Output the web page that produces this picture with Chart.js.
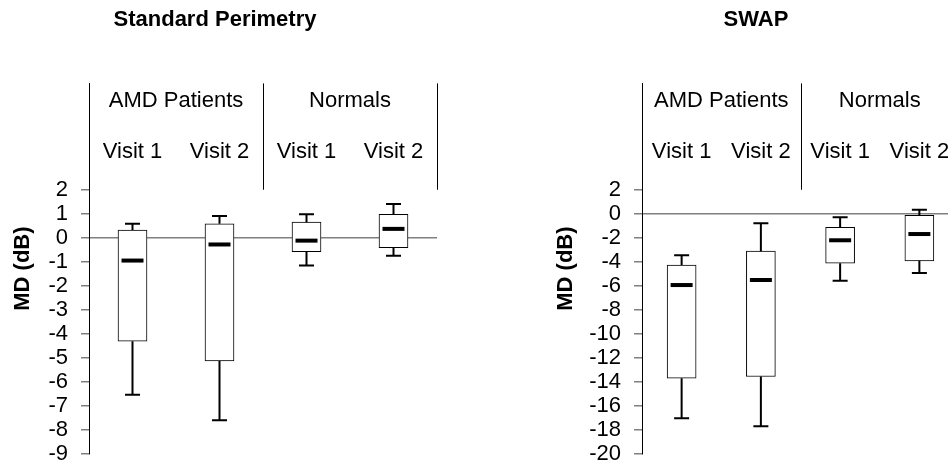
<!DOCTYPE html>
<html>
<head>
<meta charset="utf-8">
<script src="https://cdn.jsdelivr.net/npm/chart.js@4.4.1/dist/chart.umd.min.js"></script>
<style>
  html, body { margin: 0; padding: 0; background: #fff; }
  body { width: 948px; height: 464px; overflow: hidden; position: relative; }
  canvas { position: absolute; top: 0; }
  #stdChart { left: -7px; }
  #swapChart { left: 553px; }
</style>
</head>
<body>
<canvas id="stdChart" width="474" height="480"></canvas>
<canvas id="swapChart" width="406" height="480"></canvas>
<script>
const categories = ['Visit 1', 'Visit 2', 'Visit 1', 'Visit 2'];
const groups = ['AMD Patients', 'Normals'];

// Standard perimetry, MD (dB)
const stdMin = [-6.54, -7.6, -1.16, -0.75];
const stdQ1 = [-4.31, -5.13, -0.58, -0.41];
const stdMedian = [-0.95, -0.28, -0.12, 0.37];
const stdQ3 = [0.32, 0.58, 0.65, 0.98];
const stdMax = [0.58, 0.91, 0.98, 1.41];

// SWAP, MD (dB)
const swapMin = [-17.04, -17.7, -5.58, -4.94];
const swapQ1 = [-13.7, -13.56, -4.12, -3.92];
const swapMedian = [-5.94, -5.52, -2.21, -1.69];
const swapQ3 = [-4.28, -3.12, -1.13, -0.14];
const swapMax = [-3.45, -0.8, -0.3, 0.33];

Chart.defaults.font.family = "'Liberation Sans', Arial, sans-serif";
Chart.defaults.color = '#000';

const FONT = "22px 'Liberation Sans', Arial, sans-serif";

// whiskers, medians and the group header above the plot
const boxExtras = {
    id: 'boxExtras',
    afterDatasetsDraw(chart, args, opts) {
        const { ctx, chartArea, scales: { x, y } } = chart;
        ctx.save();
        ctx.strokeStyle = '#000';

        ctx.lineWidth = 2;
        opts.min.forEach((lo, i) => {
            const cx = x.getPixelForValue(i);
            const ends = [[opts.q1[i], lo], [opts.q3[i], opts.max[i]]];
            ends.forEach(([from, to]) => {
                ctx.beginPath();
                ctx.moveTo(cx, y.getPixelForValue(from));
                ctx.lineTo(cx, y.getPixelForValue(to));
                ctx.moveTo(cx - 7.5, y.getPixelForValue(to));
                ctx.lineTo(cx + 7.5, y.getPixelForValue(to));
                ctx.stroke();
            });
        });

        ctx.lineWidth = 4;
        opts.median.forEach((m, i) => {
            const cx = x.getPixelForValue(i);
            const py = y.getPixelForValue(m);
            ctx.beginPath();
            ctx.moveTo(cx - 11, py);
            ctx.lineTo(cx + 11, py);
            ctx.stroke();
        });

        // header dividers
        const headBottom = y.getPixelForValue(2);
        ctx.lineWidth = 1;
        [1.5, 3.5].forEach(v => {
            const px = Math.round(x.getPixelForValue(v)) + 0.5;
            ctx.beginPath();
            ctx.moveTo(px, chartArea.top);
            ctx.lineTo(px, headBottom);
            ctx.stroke();
        });

        ctx.fillStyle = '#000';
        ctx.font = FONT;
        ctx.textAlign = 'center';
        ctx.textBaseline = 'alphabetic';
        groups.forEach((g, i) => {
            ctx.fillText(g, x.getPixelForValue(i * 2 + 0.5), chartArea.top + 24);
        });
        categories.forEach((c, i) => {
            ctx.fillText(c, x.getPixelForValue(i), chartArea.top + 75);
        });
        ctx.restore();
    },
};

function makePanel(canvasId, cfg) {
    return new Chart(document.getElementById(canvasId), {
        type: 'bar',
        data: {
            labels: categories,
            datasets: [{
                data: cfg.q1.map((lo, i) => [lo, cfg.q3[i]]),
                backgroundColor: '#fff',
                borderColor: '#000',
                borderWidth: 1,
                borderSkipped: false,
                barThickness: 29,
            }],
        },
        options: {
            responsive: false,
            animation: false,
            layout: { padding: { left: 0, right: cfg.padRight, top: 0, bottom: 19 } },
            plugins: {
                legend: { display: false },
                tooltip: { enabled: false },
                title: {
                    display: true,
                    text: cfg.title,
                    font: { size: 22, weight: 'bold' },
                    padding: { top: 7, bottom: 50 },
                },
                boxExtras: {
                    min: cfg.min, q1: cfg.q1, median: cfg.median, q3: cfg.q3, max: cfg.max,
                },
            },
            scales: {
                x: { display: false },
                y: {
                    min: cfg.yMin,
                    max: cfg.yMax,
                    afterFit: scale => { scale.width = cfg.axisWidth; },
                    border: { color: '#000', width: 1 },
                    grid: {
                        color: c => (c.tick && c.tick.value === 0 ? '#808080' : 'rgba(0,0,0,0)'),
                        lineWidth: 1.5,
                        tickColor: c => (c.tick && c.tick.value <= 2 ? '#808080' : 'rgba(0,0,0,0)'),
                        tickLength: 8,
                        tickWidth: 1.5,
                    },
                    ticks: {
                        stepSize: cfg.step,
                        autoSkip: false,
                        padding: 13,
                        font: { size: 22 },
                        color: '#000',
                        callback: v => (v <= 2 ? v : ''),
                    },
                    title: {
                        display: true,
                        text: 'MD (dB)',
                        font: { size: 22, weight: 'bold' },
                        padding: { top: cfg.titlePad, bottom: 0 },
                    },
                },
            },
        },
        plugins: [boxExtras],
    });
}

makePanel('stdChart', {
    title: 'Standard Perimetry',
    min: stdMin, q1: stdQ1, median: stdMedian, q3: stdQ3, max: stdMax,
    yMin: -9, yMax: 6.43, step: 1,
    axisWidth: 96, titlePad: 17, padRight: 30,
});

makePanel('swapChart', {
    title: 'SWAP',
    min: swapMin, q1: swapQ1, median: swapMedian, q3: swapQ3, max: swapMax,
    yMin: -20, yMax: 10.86, step: 2,
    axisWidth: 89, titlePad: 0, padRight: 0,
});
</script>
</body>
</html>
